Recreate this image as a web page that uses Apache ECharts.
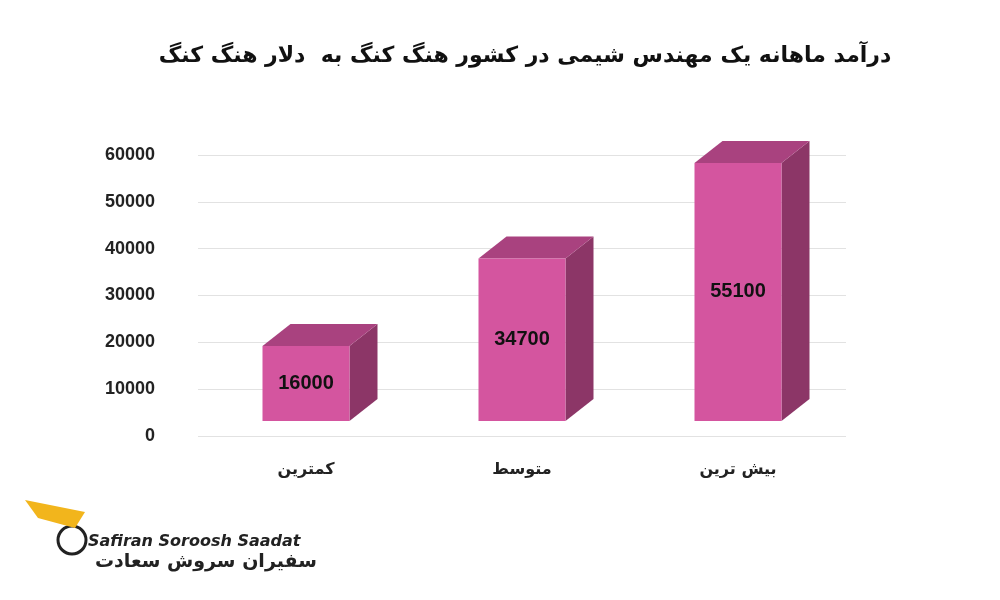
<!DOCTYPE html>
<html><head><meta charset="utf-8">
<script src="https://cdn.jsdelivr.net/npm/echarts@6/dist/echarts.min.js"></script>
<style>html,body{margin:0;padding:0;background:#fff}#c{width:1000px;height:600px}</style>
</head><body><div id="c"></div>
<script>
const categories = ['کمترین', 'متوسط', 'بیش ترین'];
const values = [16000, 34700, 55100];
const yTicks = [0, 10000, 20000, 30000, 40000, 50000, 60000];

const chart = echarts.init(document.getElementById('c'));
const W = 87, DX = 28, DY = -22, LIFT = 15;
chart.setOption({
  animation: false,
  backgroundColor: '#fff',
  title: {
    text: 'درآمد ماهانه یک مهندس شیمی در کشور هنگ کنگ به  دلار هنگ کنگ',
    left: 520, top: 40, textAlign: 'center',
    textStyle: { fontFamily: 'DejaVu Sans', fontSize: 22, fontWeight: 'bold', color: '#111' }
  },
  grid: { left: 198, right: 154, top: 155, bottom: 164 },
  xAxis: {
    type: 'category', data: categories,
    axisLine: { show: false }, axisTick: { show: false },
    axisLabel: { margin: 26, fontFamily: 'DejaVu Sans', fontSize: 16, fontWeight: 'bold', color: '#222' }
  },
  yAxis: {
    type: 'value', min: yTicks[0], max: yTicks[yTicks.length - 1], interval: 10000,
    axisLabel: { margin: 43, formatter: v => String(v), fontFamily: 'Liberation Sans', fontSize: 18, fontWeight: 'bold', color: '#222' },
    splitLine: { lineStyle: { color: '#e2e2e2' } }
  },
  graphic: [
    { type: 'text', left: 88, top: 534, style: { text: 'Safiran Soroosh Saadat', font: 'italic bold 16px "DejaVu Sans"', fill: '#222' } },
    { type: 'text', left: 95, top: 553, style: { text: 'سفیران سروش سعادت', font: 'bold 19px "DejaVu Sans"', fill: '#222' } },
    { type: 'circle', shape: { cx: 72, cy: 540, r: 14 }, style: { fill: 'none', stroke: '#222', lineWidth: 3 } },
    { type: 'polygon', shape: { points: [[25, 500], [85, 512], [75, 528], [38, 518]] }, style: { fill: '#f2b51c' } }
  ],
  series: [{
    type: 'custom',
    data: values.map((v, i) => [i, v]),
    renderItem: function (params, api) {
      const p0 = api.coord([api.value(0), 0]);
      const p1 = api.coord([api.value(0), api.value(1)]);
      const x0 = p0[0] - W / 2, x1 = p0[0] + W / 2;
      const yb = p0[1] - LIFT, yt = p1[1] - LIFT;
      return {
        type: 'group',
        children: [
          { type: 'polygon', shape: { points: [[x1, yb], [x1 + DX, yb + DY], [x1 + DX, yt + DY], [x1, yt]] }, style: { fill: '#8c3667' } },
          { type: 'polygon', shape: { points: [[x0, yt], [x1, yt], [x1 + DX, yt + DY], [x0 + DX, yt + DY]] }, style: { fill: '#a9427f' } },
          { type: 'rect', shape: { x: x0, y: yt, width: W, height: yb - yt },
            style: { fill: '#d4559f' },
            textContent: { style: { text: String(api.value(1)), fill: '#111', fontFamily: 'Liberation Sans', fontSize: 20, fontWeight: 'bold' } },
            textConfig: { position: 'inside' } }
        ]
      };
    }
  }]
});
</script></body></html>
